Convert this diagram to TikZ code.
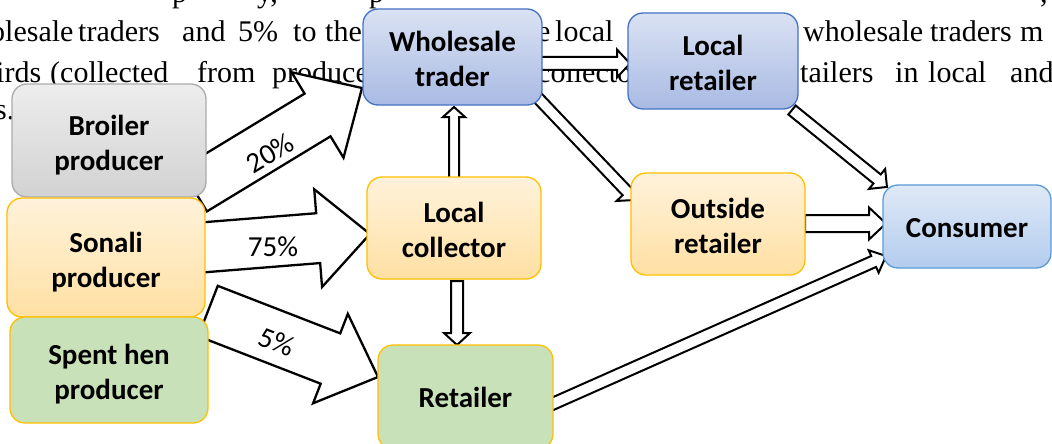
\documentclass[tikz,border=0pt]{standalone}
\usepackage{fontspec}
\setmainfont{Liberation Serif}
\newfontfamily\calfont{Carlito}
\usetikzlibrary{calc}
\definecolor{bluetop}{HTML}{DAE2F3}
\definecolor{bluebot}{HTML}{A9BAE3}
\definecolor{blueline}{HTML}{4472C4}
\definecolor{ctop}{HTML}{DFE9F6}
\definecolor{cbot}{HTML}{B3CCEE}
\definecolor{cline}{HTML}{5B9BD5}
\definecolor{otop}{HTML}{FFF2DB}
\definecolor{obot}{HTML}{FFE0A3}
\definecolor{oline}{HTML}{FFC000}
\definecolor{gfill}{HTML}{C9E1B8}
\definecolor{graytop}{HTML}{EDEDED}
\definecolor{graybot}{HTML}{D2D2D2}
\definecolor{grayline}{HTML}{ABABAB}
\newcommand\blockarrow[6][]{%
  \draw[barrow,#1] let \p1=(#2), \p2=(#3),
     \n1={atan2(\y2-\y1,\x2-\x1)}, \n2={veclen(\x2-\x1,\y2-\y1)} in
     {[shift={(\p1)},rotate=\n1]
       (0,#4) -- ({\n2-#6},#4) -- ({\n2-#6},#5) -- (\n2,0) -- ({\n2-#6},-#5) -- ({\n2-#6},-#4) -- (0,-#4) -- cycle};
}
\begin{document}
\begin{tikzpicture}[x=1pt,y=-1pt,
  box/.style={rounded corners=15pt, line width=1.3pt, align=center, inner sep=0pt,
    font=\calfont\bfseries\fontsize{29}{35}\selectfont},
  twoline/.style={text height=65pt, text depth=6pt},
  oneline/.style={text height=21pt, text depth=0pt},
  bluebox/.style={box, draw=blueline, top color=bluetop, bottom color=bluebot},
  consbox/.style={box, draw=cline, top color=ctop, bottom color=cbot},
  orangebox/.style={box, draw=oline, top color=otop, bottom color=obot},
  greenbox/.style={box, draw=oline, fill=gfill},
  graybox/.style={box, draw=grayline, top color=graytop, bottom color=graybot},
  bgtext/.style={anchor=base west, inner sep=0pt, font=\fontsize{30}{36}\selectfont},
  pct/.style={inner sep=0pt, font=\calfont\fontsize{29}{35}\selectfont},
  barrow/.style={draw=black, fill=white, line width=2.3pt, line join=miter}
]
\useasboundingbox (0,0) rectangle (1052,444);
\clip (0,0) rectangle (1052,444);
\fill[white] (0,0) rectangle (1052,444);

% background document text
\node[bgtext] (t01) at (172,3) {p};
\node[bgtext] (t02) at (257,3) {y,};
\node[bgtext] (t03) at (369,3) {p};
\node[bgtext] (t04) at (1040,3) {,};
\node[bgtext] (t11) at (-10,42) {olesale};
\node[bgtext] (t12) at (78,42) {traders};
\node[bgtext] (t13) at (182,42) {and};
\node[bgtext] (t14) at (238,42) {5\%};
\node[bgtext] (t15) at (293,42) {to};
\node[bgtext] (t16) at (325,42) {the};
\node[bgtext] (t17) at (537,42) {e};
\node[bgtext] (t18) at (555,42) {local};
\node[bgtext] (t19) at (803,42) {wholesale};
\node[bgtext] (t1a) at (930,42) {traders};
\node[bgtext] (t1b) at (1020,42) {m};
\node[bgtext] (t21) at (-4,82) {irds};
\node[bgtext] (t22) at (50,82) {(collected};
\node[bgtext] (t23) at (197,82) {from};
\node[bgtext] (t24) at (272,82) {producers};
\node[bgtext] (t25) at (537,82) {collectors};
\node[bgtext] (t26) at (800,82) {tailers};
\node[bgtext] (t27) at (895,82) {in};
\node[bgtext] (t28) at (928,82) {local};
\node[bgtext] (t29) at (1010,82) {and};
\node[bgtext] (t31) at (-5,119) {s.};

% arrow end points
\coordinate (a1s) at (194,190);  \coordinate (a1e) at (362,88);
\coordinate (a2s) at (195,248);  \coordinate (a2e) at (370,234);
\coordinate (a3s) at (208,311);  \coordinate (a3e) at (378,377);
\coordinate (a4s) at (454,178);  \coordinate (a4e) at (454,107);
\coordinate (a5s) at (457,281);  \coordinate (a5e) at (457,345);
\coordinate (a6s) at (540,63.5); \coordinate (a6e) at (630,63.5);
\coordinate (a7s) at (537,97);   \coordinate (a7e) at (635,200);
\coordinate (a8s) at (792,110);  \coordinate (a8e) at (887,187);
\coordinate (a9s) at (805,223.5);\coordinate (a9e) at (886,223.5);
\coordinate (a10s) at (550,405); \coordinate (a10e) at (886,256);

\blockarrow{a1s}{a1e}{25}{50}{52}
\blockarrow{a2s}{a2e}{25}{49}{52}
\blockarrow{a3s}{a3e}{27}{48}{51}
\blockarrow[line width=2pt]{a4s}{a4e}{5}{11}{10}
\blockarrow[line width=2pt]{a5s}{a5e}{6}{13}{12}
\blockarrow[line width=2pt]{a6s}{a6e}{6.5}{14}{13}
\blockarrow[line width=2pt]{a7s}{a7e}{5.7}{14}{12}
\blockarrow[line width=2pt]{a8s}{a8e}{5.8}{12.8}{12.7}
\blockarrow[line width=2pt]{a9s}{a9e}{8.5}{16}{17}
\blockarrow[line width=2pt]{a10s}{a10e}{6}{12.3}{13.5}

% boxes
\node[graybox, twoline, minimum width=194pt, minimum height=113pt] (broiler) at (109,140.5) {Broiler\\producer};
\node[orangebox, twoline, minimum width=198pt, minimum height=119pt] (sonali) at (106,257.5) {Sonali\\producer};
\node[greenbox, twoline, minimum width=198pt, minimum height=106pt] (spent) at (109,370) {Spent hen\\producer};
\node[bluebox, twoline, minimum width=179pt, minimum height=96pt] (wholesale) at (452.5,57) {Wholesale\\trader};
\node[bluebox, twoline, minimum width=170pt, minimum height=96pt] (localret) at (713,61) {Local\\retailer};
\node[orangebox, twoline, minimum width=174pt, minimum height=102pt] (collector) at (454,228) {Local\\collector};
\node[orangebox, twoline, minimum width=174pt, minimum height=102pt] (outside) at (718,224) {Outside\\retailer};
\node[consbox, oneline, minimum width=168pt, minimum height=83pt] (consumer) at (967,226.5) {Consumer};
\node[greenbox, minimum width=175pt, minimum height=104pt] (retailer) at (465.5,397) {Retailer};

% percentages
\node[pct, rotate=31] (p20) at (270,153) {20\%};
\node[pct] (p75) at (273,247) {75\%};
\node[pct, rotate=-22] (p5) at (277,342) {5\%};
\end{tikzpicture}
\end{document}
